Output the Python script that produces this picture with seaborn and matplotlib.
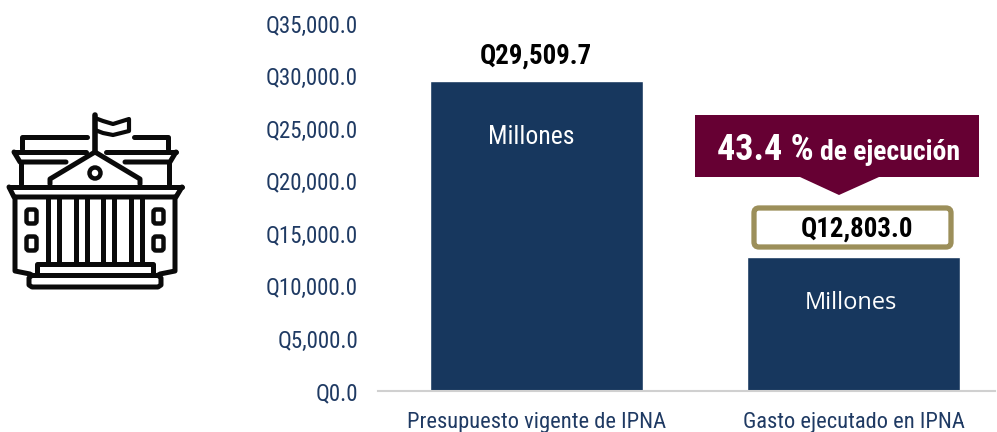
import matplotlib
matplotlib.use("Agg")
import matplotlib.pyplot as plt
from matplotlib.patches import FancyBboxPatch, Polygon, Circle
import pandas as pd
import seaborn as sns

# Data
categories = ["Presupuesto vigente de IPNA", "Gasto ejecutado en IPNA"]
values = [29509.7, 12803.0]
value_labels = ["Q29,509.7", "Q12,803.0"]
yticks = [0, 5000, 10000, 15000, 20000, 25000, 30000, 35000]
execution_pct = "43.4 %"

NAVY = "#17375E"
WINE = "#660033"
GOLD = "#9C8F5A"
TICK_COLOR = "#1F3A63"
INK = "#0A0A0A"
NARROW = ["Roboto Condensed", "Liberation Sans", "DejaVu Sans"]

W, H = 997, 432

sns.set_theme(style="white")
plt.rcParams["font.family"] = NARROW

fig = plt.figure(figsize=(W / 100, H / 100), dpi=100)
ax = fig.add_axes([377.5 / W, 1 - 391 / H, (995 - 377.5) / W, 367.5 / H])

df = pd.DataFrame({"cat": categories, "val": values})
sns.barplot(data=df, x="cat", y="val", color=NAVY, saturation=1, width=0.67, ax=ax)

ax.set_xlim(-0.5, 1.445)
ax.set_ylim(0, 35000)
ax.set_xlabel("")
ax.set_ylabel("")
ax.set_yticks(yticks)
ax.set_yticklabels([f"Q{t:,.1f}" for t in yticks], fontsize=16.6, color=TICK_COLOR)
ax.tick_params(axis="y", length=0, pad=14)
ax.tick_params(axis="x", length=0, pad=15, labelsize=16.2, labelcolor=TICK_COLOR)
sns.despine(ax=ax, left=True)
ax.spines["bottom"].set_color("#D0D0D0")
ax.spines["bottom"].set_linewidth(1.5)

# Labels on the bars
ax.text(0, 31900, value_labels[0], ha="center", va="center", fontsize=19.4,
        fontweight="bold", color="black")
ax.text(-0.015, 24200, "Millones", ha="center", va="center", fontsize=18.5, color="white")
ax.text(0.99, 8350, "Millones", ha="center", va="center", fontsize=17,
        color="white", family="Open Sans")

# Overlay in pixel coordinates for callouts and the icon
ov = fig.add_axes([0, 0, 1, 1], facecolor="none")
ov.set_xlim(0, W)
ov.set_ylim(H, 0)
ov.axis("off")

# Execution callout
ov.add_patch(Polygon([(695, 115), (979, 115), (979, 177), (879, 177), (839, 195),
                      (800, 177), (695, 177)], closed=True, fc=WINE, ec="none"))
ov.text(717, 150, execution_pct, ha="left", va="center", fontsize=26,
        fontweight="bold", color="white")
ov.text(820, 152, "de ejecución", ha="left", va="center", fontsize=20,
        fontweight="bold", color="white")

# Value box
ov.add_patch(FancyBboxPatch((754, 208), 197, 39, boxstyle="round,pad=0,rounding_size=5",
                            fc="white", ec=GOLD, lw=3.8))
ov.text(857, 229, value_labels[1], ha="center", va="center", fontsize=19.4,
        fontweight="bold", color="black")


# Building icon
def stroke(pts, lw=3.6):
    xs, ys = zip(*pts)
    ov.plot(xs, ys, color=INK, lw=lw, solid_capstyle="round", solid_joinstyle="round")


# flag
stroke([(95, 115), (95, 152)], 4)
stroke([(95, 118), (103, 121), (113, 124), (129, 119), (129, 131), (113, 135), (103, 133), (95, 130)], 3)
# upper roof
stroke([(22, 149), (22, 137), (87, 137)])
stroke([(134, 137), (168, 137), (168, 149)])
stroke([(14, 152), (86, 152)])
stroke([(106, 152), (176, 152)])
stroke([(14, 152), (20, 162), (66, 162)])
stroke([(125, 162), (170, 162), (176, 152)])
stroke([(21, 162), (21, 184)])
stroke([(169, 162), (169, 184)])
# pediment
stroke([(50, 184), (50, 179), (95, 152), (140, 179), (140, 184)])
ov.add_patch(Circle((95, 173), 5.5, fc="white", ec=INK, lw=3.2))
# cornice
stroke([(9, 187), (182, 187)])
stroke([(9, 187), (14, 197), (176, 197), (182, 187)])
# walls
stroke([(15, 197), (15, 271), (30, 274)])
stroke([(175, 197), (175, 271), (160, 274)])
# columns
for cx in [48, 59, 76, 87, 103, 114, 131, 142]:
    stroke([(cx, 197), (cx, 264)], 3.6)
# windows
for wx in [31.5, 158.5]:
    for wy in [216.5, 243.5]:
        ov.add_patch(FancyBboxPatch((wx - 5, wy - 7), 10, 14, boxstyle="round,pad=0,rounding_size=2.5",
                                    fc="white", ec=INK, lw=3.2))
# steps
stroke([(37, 274), (37, 264), (153, 264), (153, 274)])
stroke([(32, 275), (158, 275)])
stroke([(32, 275), (29, 278), (29, 285), (32, 287), (158, 287), (161, 285), (161, 278), (158, 275)])

fig.savefig("out.png", dpi=100, facecolor="white")
